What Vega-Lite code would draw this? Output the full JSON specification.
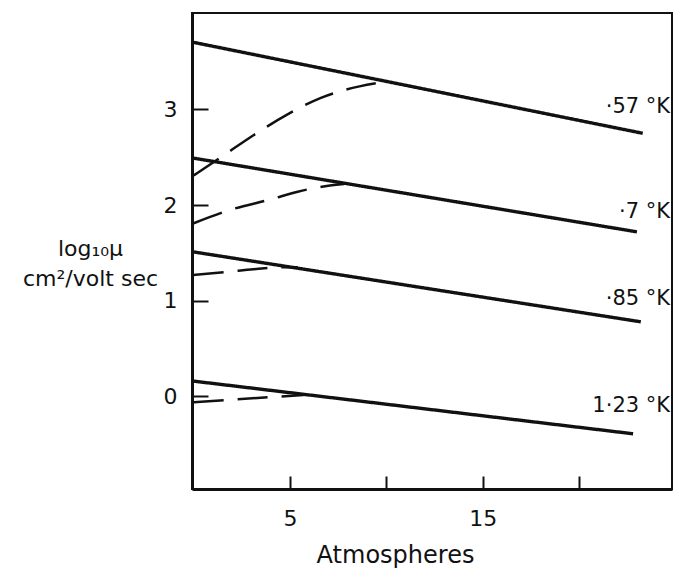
{
  "$schema": "https://vega.github.io/schema/vega-lite/v6.json",
  "width": 480,
  "height": 476,
  "autosize": {"type": "none"},
  "padding": {"left": 192, "top": 13, "right": 3, "bottom": 82},
  "background": "white",
  "config": {
    "view": {"stroke": "#111", "strokeWidth": 2},
    "font": "DejaVu Sans"
  },
  "datasets": {
    "curves": [
      {"series": "s57", "kind": "solid", "p": 0, "logmu": 3.70},
      {"series": "s57", "kind": "solid", "p": 23.3, "logmu": 2.75},
      {"series": "s70", "kind": "solid", "p": 0, "logmu": 2.49},
      {"series": "s70", "kind": "solid", "p": 23.0, "logmu": 1.72},
      {"series": "s85", "kind": "solid", "p": 0, "logmu": 1.51},
      {"series": "s85", "kind": "solid", "p": 23.2, "logmu": 0.78},
      {"series": "s123", "kind": "solid", "p": 0, "logmu": 0.16},
      {"series": "s123", "kind": "solid", "p": 22.8, "logmu": -0.39},
      {"series": "d57", "kind": "dashed", "p": 0, "logmu": 2.31},
      {"series": "d57", "kind": "dashed", "p": 1.7, "logmu": 2.54},
      {"series": "d57", "kind": "dashed", "p": 3.1, "logmu": 2.73},
      {"series": "d57", "kind": "dashed", "p": 4.8, "logmu": 2.94},
      {"series": "d57", "kind": "dashed", "p": 6.6, "logmu": 3.12},
      {"series": "d57", "kind": "dashed", "p": 8.6, "logmu": 3.24},
      {"series": "d57", "kind": "dashed", "p": 10.0, "logmu": 3.29},
      {"series": "d70", "kind": "dashed", "p": 0, "logmu": 1.81},
      {"series": "d70", "kind": "dashed", "p": 1.9, "logmu": 1.95},
      {"series": "d70", "kind": "dashed", "p": 4.0, "logmu": 2.06},
      {"series": "d70", "kind": "dashed", "p": 5.4, "logmu": 2.14},
      {"series": "d70", "kind": "dashed", "p": 6.9, "logmu": 2.20},
      {"series": "d70", "kind": "dashed", "p": 7.8, "logmu": 2.22},
      {"series": "d85", "kind": "dashed", "p": 0, "logmu": 1.27},
      {"series": "d85", "kind": "dashed", "p": 1.7, "logmu": 1.30},
      {"series": "d85", "kind": "dashed", "p": 3.1, "logmu": 1.33},
      {"series": "d85", "kind": "dashed", "p": 4.6, "logmu": 1.35},
      {"series": "d85", "kind": "dashed", "p": 5.4, "logmu": 1.35},
      {"series": "d123", "kind": "dashed", "p": 0, "logmu": -0.06},
      {"series": "d123", "kind": "dashed", "p": 2.2, "logmu": -0.03},
      {"series": "d123", "kind": "dashed", "p": 4.5, "logmu": 0.0},
      {"series": "d123", "kind": "dashed", "p": 5.7, "logmu": 0.015}
    ],
    "labels": [
      {"label": "·57 °K", "p": 24.72, "logmu": 2.962},
      {"label": "·7 °K", "p": 24.72, "logmu": 1.865},
      {"label": "·85 °K", "p": 24.72, "logmu": 0.956},
      {"label": "1·23 °K", "p": 24.72, "logmu": -0.162}
    ]
  },
  "layer": [
    {
      "data": {"name": "curves"},
      "mark": {"type": "line", "color": "#111", "clip": true, "interpolate": "monotone"},
      "encoding": {
        "x": {
          "field": "p", "type": "quantitative",
          "scale": {"domain": [-0.09, 24.82], "nice": false, "zero": false},
          "axis": {
            "values": [5, 10, 15, 20],
            "format": "d",
            "labelExpr": "datum.value == 5 || datum.value == 15 ? datum.label : ''",
            "grid": false,
            "tickSize": -13, "tickWidth": 2, "tickColor": "#111",
            "domainColor": "#111", "domainWidth": 3,
            "labelFontSize": 22, "labelColor": "#111", "labelPadding": 32,
            "labelFont": "DejaVu Sans",
            "title": "Atmospheres",
            "titleFont": "DejaVu Sans", "titleFontSize": 24, "titleFontWeight": "normal",
            "titleColor": "#111", "titleX": 203, "titleY": 73,
            "titleBaseline": "alphabetic", "titleAlign": "center"
          }
        },
        "y": {
          "field": "logmu", "type": "quantitative",
          "scale": {"domain": [-0.967, 4.007], "nice": false, "zero": false},
          "axis": {
            "values": [0, 1, 2, 3],
            "format": "d",
            "grid": false,
            "tickSize": -16, "tickWidth": 2, "tickColor": "#111",
            "domainColor": "#111", "domainWidth": 3,
            "labelFontSize": 22, "labelColor": "#111", "labelPadding": 31,
            "labelFont": "DejaVu Sans",
            "title": ["log₁₀μ", "cm²/volt sec"],
            "titleFont": "DejaVu Sans", "titleFontSize": 22, "titleFontWeight": "normal",
            "titleColor": "#111", "titleAngle": 0, "titleAlign": "center",
            "titleBaseline": "alphabetic", "titleLineHeight": 30,
            "titleX": -102, "titleY": 242
          }
        },
        "detail": {"field": "series"},
        "strokeDash": {
          "field": "kind", "type": "nominal",
          "scale": {"domain": ["solid", "dashed"], "range": [[1, 0], [30, 14]]},
          "legend": null
        },
        "strokeWidth": {
          "field": "kind", "type": "nominal",
          "scale": {"domain": ["solid", "dashed"], "range": [3.4, 2.5]},
          "legend": null
        }
      }
    },
    {
      "data": {"name": "labels"},
      "mark": {"type": "text", "align": "right", "baseline": "alphabetic", "fontSize": 21, "font": "DejaVu Sans", "color": "#111"},
      "encoding": {
        "x": {"field": "p", "type": "quantitative"},
        "y": {"field": "logmu", "type": "quantitative"},
        "text": {"field": "label"}
      }
    }
  ]
}
